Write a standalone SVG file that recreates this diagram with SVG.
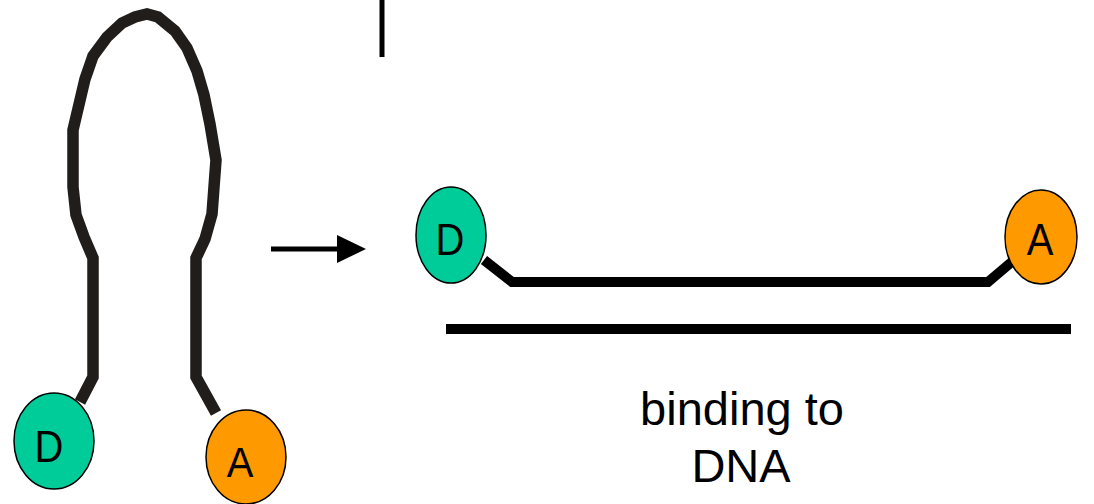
<svg xmlns="http://www.w3.org/2000/svg" width="1094" height="504" viewBox="0 0 1094 504">
<style>
.loop{fill:none;stroke:#211d1b;stroke-width:11.5;stroke-linejoin:miter}
.bar{fill:none;stroke:#000;stroke-width:10}
.don{fill:#00cc99;stroke:#000;stroke-width:1.5}
.acc{fill:#ff9900;stroke:#000;stroke-width:1.5}
.lbl{font-family:"Liberation Sans",Arial,sans-serif;font-size:40px;fill:#000;text-anchor:middle}
.cap{font-family:"Liberation Sans",Arial,sans-serif;font-size:47px;fill:#000;text-anchor:middle}
</style>
<g id="connectors">
<polyline class="loop" points="80,402 93,377 93,258 84,237 76,215 73,187 73,160 73,130 85,79 93,56 107,37 122,23 135,17 147,14 158,17 175,31 187,48 197,71 204,95 210,124 216,160 212,214 205,239 196,258 196,377 216,413"/>
<line x1="382" y1="0" x2="382" y2="57" stroke="#000" stroke-width="5"/>
<line x1="271" y1="249" x2="340" y2="249" stroke="#000" stroke-width="5"/>
<polygon points="337,235 366,249 337,263" fill="#000"/>
<polyline class="bar" points="484,260 512,282 988,282 1014,260"/>
<line class="bar" x1="446" y1="329" x2="1071" y2="329"/>
</g>
<g id="hairpin-donor">
<ellipse class="don" cx="54" cy="441" rx="40" ry="48"/>
<text class="lbl" transform="translate(49,462) scale(1,1.12)" x="0" y="0">D</text>
</g>
<g id="hairpin-acceptor">
<ellipse class="acc" cx="246" cy="457" rx="40" ry="47"/>
<text class="lbl" transform="translate(240,477) scale(1,1.07)" x="0" y="0">A</text>
</g>
<g id="bound-donor">
<ellipse class="don" cx="451" cy="235" rx="35" ry="48"/>
<text class="lbl" transform="translate(450,255) scale(1,1.12)" x="0" y="0">D</text>
</g>
<g id="bound-acceptor">
<ellipse class="acc" cx="1041" cy="237" rx="36" ry="47"/>
<text class="lbl" transform="translate(1040,255) scale(1,1.12)" x="0" y="0">A</text>
</g>
<g id="caption">
<text class="cap" x="742" y="425">binding to</text>
<text class="cap" x="741" y="482">DNA</text>
</g>
</svg>
